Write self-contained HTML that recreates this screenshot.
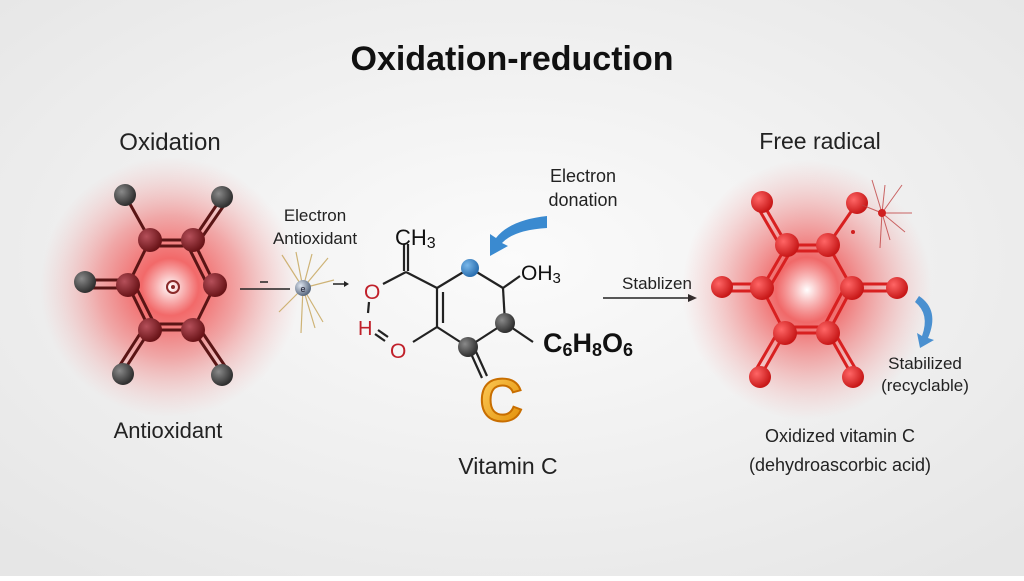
<!DOCTYPE html>
<html><head><meta charset="utf-8"><style>
html,body{margin:0;padding:0;}
body{width:1024px;height:576px;overflow:hidden;font-family:"Liberation Sans",sans-serif;}
</style></head><body>
<svg width="1024" height="576" viewBox="0 0 1024 576" xmlns="http://www.w3.org/2000/svg" font-family="Liberation Sans, sans-serif">
<defs>
<radialGradient id="bg" cx="50%" cy="45%" r="70%"><stop offset="0" stop-color="#fbfbfb"/><stop offset="1" stop-color="#e6e6e6"/></radialGradient>
<radialGradient id="glowL" cx="50%" cy="50%" r="50%"><stop offset="0" stop-color="#fff" stop-opacity="1"/><stop offset="0.22" stop-color="#f25a5a" stop-opacity="0.9"/><stop offset="0.55" stop-color="#f06060" stop-opacity="0.5"/><stop offset="1" stop-color="#f5a0a0" stop-opacity="0"/></radialGradient>
<radialGradient id="glowR" cx="50%" cy="50%" r="50%"><stop offset="0" stop-color="#fff" stop-opacity="1"/><stop offset="0.25" stop-color="#f05050" stop-opacity="0.85"/><stop offset="0.6" stop-color="#f07070" stop-opacity="0.45"/><stop offset="1" stop-color="#f5a0a0" stop-opacity="0"/></radialGradient>
<radialGradient id="dr" cx="35%" cy="35%" r="65%"><stop offset="0" stop-color="#b5505a"/><stop offset="1" stop-color="#6a1418"/></radialGradient>
<radialGradient id="gy" cx="35%" cy="35%" r="65%"><stop offset="0" stop-color="#8a8a8a"/><stop offset="1" stop-color="#2f2f2f"/></radialGradient>
<radialGradient id="rd" cx="35%" cy="35%" r="65%"><stop offset="0" stop-color="#f66"/><stop offset="1" stop-color="#c81818"/></radialGradient>
<radialGradient id="bl" cx="35%" cy="35%" r="65%"><stop offset="0" stop-color="#7ab8ea"/><stop offset="1" stop-color="#2a6fb0"/></radialGradient>
<radialGradient id="el" cx="35%" cy="35%" r="65%"><stop offset="0" stop-color="#dfe6f0"/><stop offset="1" stop-color="#5a6a80"/></radialGradient>
<linearGradient id="or" x1="0" y1="0" x2="1" y2="1"><stop offset="0" stop-color="#ffd060"/><stop offset="1" stop-color="#e08a00"/></linearGradient>
</defs>
<rect width="1024" height="576" fill="url(#bg)"/>

<text x="512" y="70" text-anchor="middle" font-size="34" font-weight="bold" fill="#111">Oxidation-reduction</text>

<!-- Left molecule -->
<ellipse cx="170" cy="287" rx="130" ry="130" fill="url(#glowL)"/>
<g stroke="#5a1515" stroke-width="3" fill="none">
<line x1="150" y1="240" x2="193" y2="240"/><line x1="150" y1="246" x2="193" y2="246"/>
<line x1="193" y1="240" x2="215" y2="285"/><line x1="187" y1="244" x2="209" y2="288"/>
<line x1="215" y1="285" x2="193" y2="330"/>
<line x1="193" y1="330" x2="150" y2="330"/><line x1="193" y1="324" x2="150" y2="324"/>
<line x1="150" y1="330" x2="128" y2="285"/><line x1="156" y1="327" x2="134" y2="283"/>
<line x1="128" y1="285" x2="150" y2="240"/>
<line x1="125" y1="195" x2="150" y2="240"/>
<line x1="222" y1="197" x2="193" y2="240"/><line x1="227" y1="201" x2="198" y2="243"/>
<line x1="85" y1="280" x2="128" y2="280"/><line x1="85" y1="288" x2="128" y2="288"/>
<line x1="123" y1="372" x2="150" y2="330"/><line x1="118" y1="368" x2="145" y2="326"/>
<line x1="222" y1="373" x2="193" y2="330"/><line x1="227" y1="369" x2="198" y2="326"/>
</g>
<g fill="url(#gy)"><circle cx="125" cy="195" r="11"/><circle cx="222" cy="197" r="11"/><circle cx="85" cy="282" r="11"/><circle cx="123" cy="374" r="11"/><circle cx="222" cy="375" r="11"/></g>
<g fill="url(#dr)"><circle cx="150" cy="240" r="12"/><circle cx="193" cy="240" r="12"/><circle cx="128" cy="285" r="12"/><circle cx="215" cy="285" r="12"/><circle cx="150" cy="330" r="12"/><circle cx="193" cy="330" r="12"/></g>
<circle cx="173" cy="287" r="6" fill="none" stroke="#8a2a2a" stroke-width="2"/><circle cx="173" cy="287" r="2" fill="#8a2a2a"/>
<text x="170" y="150" text-anchor="middle" font-size="24" fill="#222">Oxidation</text>
<text x="168" y="438" text-anchor="middle" font-size="22" fill="#222">Antioxidant</text>

<!-- electron -->
<text x="315" y="221" text-anchor="middle" font-size="17" fill="#222">Electron</text>
<text x="315" y="244" text-anchor="middle" font-size="17" fill="#222">Antioxidant</text>
<line x1="240" y1="289" x2="290" y2="289" stroke="#222" stroke-width="1.5"/>
<line x1="260" y1="282" x2="268" y2="282" stroke="#222" stroke-width="1.5"/>
<g stroke="#c8a860" stroke-width="1.2" opacity="0.85">
<line x1="303" y1="288" x2="282" y2="255"/><line x1="303" y1="288" x2="328" y2="258"/><line x1="303" y1="288" x2="334" y2="280"/><line x1="303" y1="288" x2="323" y2="322"/><line x1="303" y1="288" x2="301" y2="333"/><line x1="303" y1="288" x2="279" y2="312"/><line x1="303" y1="288" x2="296" y2="252"/><line x1="303" y1="288" x2="315" y2="328"/><line x1="303" y1="288" x2="312" y2="254"/>
</g>
<circle cx="303" cy="288" r="8" fill="url(#el)"/>
<text x="303" y="292" text-anchor="middle" font-size="9" fill="#223">e</text>
<line x1="333" y1="284" x2="346" y2="284" stroke="#222" stroke-width="1.5"/>
<path d="M344 281 L349 284 L344 287Z" fill="#222"/>

<!-- Vitamin C -->
<g stroke="#222" stroke-width="2.2" fill="none">
<line x1="404" y1="244" x2="404" y2="271"/><line x1="408" y1="244" x2="408" y2="271"/>
<line x1="406" y1="272" x2="383" y2="284"/>
<line x1="406" y1="272" x2="437" y2="288"/>
<line x1="437" y1="288" x2="470" y2="268"/>
<line x1="470" y1="268" x2="503" y2="288"/>
<line x1="503" y1="288" x2="520" y2="276"/>
<line x1="503" y1="288" x2="505" y2="323"/>
<line x1="505" y1="323" x2="533" y2="342"/>
<line x1="505" y1="323" x2="468" y2="347"/>
<line x1="437" y1="288" x2="437" y2="327"/><line x1="443" y1="292" x2="443" y2="323"/>
<line x1="437" y1="327" x2="468" y2="347"/>
<line x1="437" y1="327" x2="413" y2="342"/>
<line x1="468" y1="347" x2="482" y2="378"/><line x1="473" y1="345" x2="487" y2="376"/>
<line x1="369" y1="302" x2="368" y2="313"/>
<line x1="378" y1="330" x2="388" y2="337"/><line x1="375" y1="334" x2="385" y2="341"/>
</g>
<circle cx="470" cy="268" r="9" fill="url(#bl)"/>
<circle cx="505" cy="323" r="10" fill="url(#gy)"/>
<circle cx="468" cy="347" r="10" fill="url(#gy)"/>
<text x="395" y="245" font-size="22" fill="#111">CH<tspan font-size="16" dy="3">3</tspan></text>
<text x="364" y="299" font-size="21" fill="#c0202a">O</text>
<text x="358" y="335" font-size="20" fill="#c0202a">H</text>
<text x="390" y="358" font-size="21" fill="#c0202a">O</text>
<text x="521" y="280" font-size="21" fill="#111">OH<tspan font-size="15" dy="3">3</tspan></text>
<text x="543" y="352" font-size="27" font-weight="bold" fill="#111">C<tspan font-size="18" dy="4">6</tspan><tspan dy="-4">H</tspan><tspan font-size="18" dy="4">8</tspan><tspan dy="-4">O</tspan><tspan font-size="18" dy="4">6</tspan></text>
<text x="501" y="421" text-anchor="middle" font-size="60" font-weight="bold" fill="url(#or)" stroke="#c86e00" stroke-width="2">C</text>
<text x="508" y="474" text-anchor="middle" font-size="23" fill="#222">Vitamin C</text>
<text x="583" y="182" text-anchor="middle" font-size="18" fill="#222">Electron</text>
<text x="583" y="206" text-anchor="middle" font-size="18" fill="#222">donation</text>
<path d="M547 216 Q510 220 496 238 L490 234 L490 256 L508 246 L502 243 Q514 230 547 228 Z" fill="#3a8ad0"/>

<!-- Stablizen -->
<text x="657" y="289" text-anchor="middle" font-size="17" fill="#222">Stablizen</text>
<line x1="603" y1="298" x2="690" y2="298" stroke="#222" stroke-width="1.5"/>
<path d="M688 294 L697 298 L688 302Z" fill="#222"/>

<!-- Right molecule -->
<ellipse cx="807" cy="290" rx="125" ry="130" fill="url(#glowR)"/>
<g stroke="#d82020" stroke-width="3" fill="none">
<line x1="787" y1="245" x2="828" y2="245"/><line x1="787" y1="251" x2="828" y2="251"/>
<line x1="828" y1="245" x2="852" y2="288"/>
<line x1="852" y1="288" x2="828" y2="333"/><line x1="846" y1="285" x2="822" y2="330"/>
<line x1="828" y1="333" x2="785" y2="333"/><line x1="828" y1="327" x2="785" y2="327"/>
<line x1="785" y1="333" x2="762" y2="288"/>
<line x1="762" y1="288" x2="787" y2="245"/><line x1="768" y1="290" x2="792" y2="249"/>
<line x1="762" y1="202" x2="787" y2="245"/><line x1="757" y1="206" x2="782" y2="249"/>
<line x1="857" y1="203" x2="828" y2="245"/>
<line x1="722" y1="284" x2="762" y2="284"/><line x1="722" y1="291" x2="762" y2="291"/>
<line x1="852" y1="284" x2="897" y2="284"/><line x1="852" y1="291" x2="897" y2="291"/>
<line x1="760" y1="377" x2="785" y2="333"/><line x1="754" y1="373" x2="779" y2="330"/>
<line x1="853" y1="377" x2="828" y2="333"/><line x1="858" y1="373" x2="833" y2="330"/>
</g>
<g fill="url(#rd)">
<circle cx="762" cy="202" r="11"/><circle cx="857" cy="203" r="11"/><circle cx="722" cy="287" r="11"/><circle cx="897" cy="288" r="11"/><circle cx="760" cy="377" r="11"/><circle cx="853" cy="377" r="11"/>
<circle cx="787" cy="245" r="12"/><circle cx="828" cy="245" r="12"/><circle cx="762" cy="288" r="12"/><circle cx="852" cy="288" r="12"/><circle cx="785" cy="333" r="12"/><circle cx="828" cy="333" r="12"/>
</g>
<g stroke="#c04040" stroke-width="1" opacity="0.8">
<line x1="882" y1="213" x2="872" y2="180"/><line x1="882" y1="213" x2="902" y2="185"/><line x1="882" y1="213" x2="912" y2="213"/><line x1="882" y1="213" x2="905" y2="232"/><line x1="882" y1="213" x2="880" y2="248"/><line x1="882" y1="213" x2="862" y2="205"/><line x1="882" y1="213" x2="890" y2="240"/><line x1="882" y1="213" x2="885" y2="185"/>
</g>
<circle cx="882" cy="213" r="4" fill="#d02020"/>
<circle cx="853" cy="232" r="2" fill="#d02020"/>
<path d="M919 296 Q940 310 928 338 L934 340 L920 348 L917 333 L922 336 Q930 314 915 302 Z" fill="#4a90d0"/>
<text x="925" y="369" text-anchor="middle" font-size="17" fill="#222">Stabilized</text>
<text x="925" y="391" text-anchor="middle" font-size="17" fill="#222">(recyclable)</text>
<text x="840" y="442" text-anchor="middle" font-size="18" fill="#222">Oxidized vitamin C</text>
<text x="840" y="471" text-anchor="middle" font-size="18" fill="#222">(dehydroascorbic acid)</text>
<text x="820" y="149" text-anchor="middle" font-size="23" fill="#222">Free radical</text>
</svg>
</body></html>
